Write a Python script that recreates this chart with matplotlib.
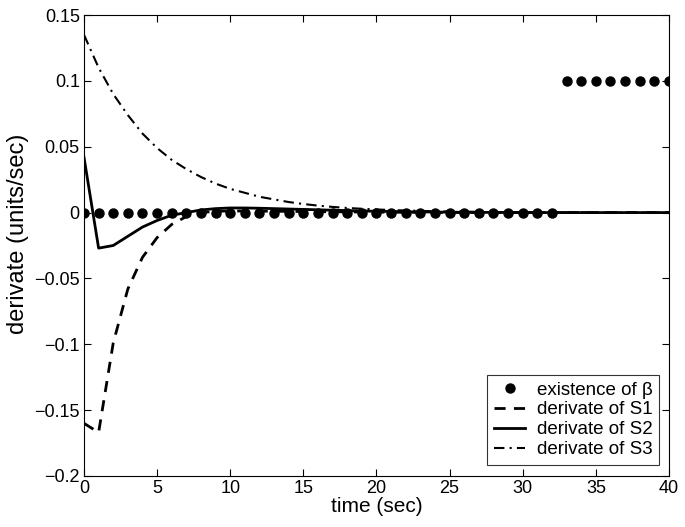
import matplotlib
matplotlib.use("Agg")
import matplotlib.pyplot as plt
import numpy as np

plt.rcParams['font.family'] = ['Liberation Sans', 'DejaVu Sans']

# existence of beta: 0 up to t=32, then 0.1 from t=33 to 40
beta_t = list(range(0, 41))
beta_v = [0.0] * 33 + [0.1] * 8

t = list(range(0, 41))
s1 = [-0.160, -0.167, -0.099, -0.058, -0.034, -0.019, -0.009, -0.003, 0.000, 0.001,
      0.0012, 0.0012, 0.0011, 0.0010, 0.0009, 0.0008, 0.0007, 0.0006, 0.0005, 0.0004,
      0.0003, 0.0003, 0.0002, 0.0002, 0.0001, 0.0001, 0.0001, 0.0, 0.0, 0.0,
      0.0, 0.0, 0.0, 0.0, 0.0, 0.0, 0.0, 0.0, 0.0, 0.0, 0.0]
s2 = [0.042, -0.027, -0.025, -0.018, -0.011, -0.006, -0.002, 0.000, 0.002, 0.003,
      0.0035, 0.0035, 0.0033, 0.0030, 0.0027, 0.0024, 0.0021, 0.0018, 0.0015, 0.0012,
      0.0010, 0.0008, 0.0006, 0.0005, 0.0004, 0.0003, 0.0002, 0.0002, 0.0001, 0.0001,
      0.0, 0.0, 0.0, 0.0, 0.0, 0.0, 0.0, 0.0, 0.0, 0.0, 0.0]
s3 = [0.135, 0.110, 0.090, 0.074, 0.060, 0.049, 0.040, 0.033, 0.027, 0.022,
      0.018, 0.015, 0.012, 0.010, 0.008, 0.0065, 0.0053, 0.0043, 0.0035, 0.0029,
      0.0024, 0.0019, 0.0016, 0.0013, 0.0010, 0.0008, 0.0007, 0.0005, 0.0004, 0.0003,
      0.0003, 0.0002, 0.0002, 0.0001, 0.0001, 0.0001, 0.0, 0.0, 0.0, 0.0, 0.0]

yticks = [-0.2, -0.15, -0.1, -0.05, 0, 0.05, 0.1, 0.15]
ytick_labels = ['\u22120.2', '\u22120.15', '\u22120.1', '\u22120.05', '0', '0.05', '0.1', '0.15']

fig = plt.figure(figsize=(6.85, 5.27), dpi=100)
ax = fig.add_axes([0.1226, 0.0968, 0.854, 0.8747])

ax.plot(beta_t, beta_v, 'o', color='black', markersize=6.5, label='existence of β', zorder=3)
ax.plot(t, s1, color='black', lw=2, ls=(0, (4, 3)), label='derivate of S1')
ax.plot(t, s2, color='black', lw=2, ls='-', label='derivate of S2')
ax.plot(t, s3, color='black', lw=1.5, ls=(0, (5, 2.5, 1, 2.5)), label='derivate of S3')

ax.set_xlim(0, 40)
ax.set_ylim(-0.2, 0.15)
ax.set_xticks(np.arange(0, 41, 5))
ax.set_yticks(yticks)
ax.set_yticklabels(ytick_labels)
ax.tick_params(direction='in', top=True, right=True, labelsize=13, length=5, pad=3)
for sp in ax.spines.values():
    sp.set_linewidth(0.8)

ax.set_xlabel('time (sec)', fontsize=15, labelpad=0)
ax.set_ylabel('derivate (units/sec)', fontsize=17)
ax.yaxis.set_label_coords(-0.094, 0.525)

leg = ax.legend(loc='lower right', bbox_to_anchor=(0.983, 0.024), borderaxespad=0,
                fontsize=13.5, handlelength=1.7, handletextpad=0.6,
                frameon=True, fancybox=False, edgecolor='black', borderpad=0.35,
                labelspacing=0.15, numpoints=1)
leg.get_frame().set_linewidth(0.8)

fig.savefig('out.png', dpi=100)
